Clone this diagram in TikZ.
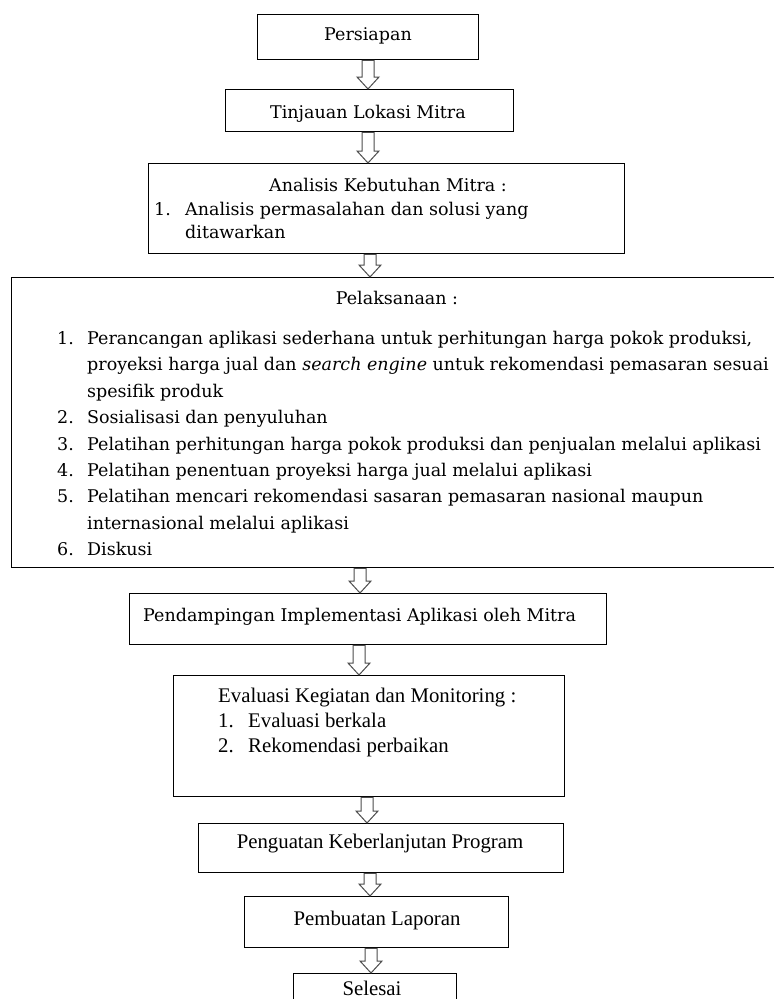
\documentclass[tikz,border=0pt]{standalone}
\usepackage{fontspec}
\setmainfont{Liberation Serif}
\newfontfamily\camfont{DejaVu Serif}
\usetikzlibrary{calc}

\newcommand{\blockarrow}[3]{%
\draw[hollow] let \p1=(#3,0 |- #1.south), \p2=(#3,0 |- #2.north) in
 (\x1-6pt,\y1)--(\x1-6pt,\y2+12pt)--(\x1-11pt,\y2+12pt)--(\x2,\y2)--(\x1+11pt,\y2+12pt)--(\x1+6pt,\y2+12pt)--(\x1+6pt,\y1)--cycle;}

\tikzset{
 box/.style={draw,line width=1.4pt,rectangle,anchor=north west,inner sep=0pt},
 hollow/.style={draw=black!70,line width=1pt,fill=white},
 tnr/.style={inner sep=0pt,font=\fontsize{20.8}{25}\selectfont},
 cam/.style={inner sep=0pt,font=\camfont\fontsize{17.5}{21}\selectfont}
}

\begin{document}
\begin{tikzpicture}[x=1pt,y=-1pt]
\useasboundingbox (0,0) rectangle (774,999);
\clip (0,0) rectangle (774,999);

\node[box,minimum width=221,minimum height=45] (persiapan) at (257,14) {};
\node[box,minimum width=288,minimum height=42] (tinjauan) at (225,89) {};
\node[box,minimum width=476,minimum height=90] (analisis) at (148,163) {};
\node[box,minimum width=773,minimum height=290] (pelaksanaan) at (11,277) {};
\node[box,minimum width=477,minimum height=51] (pendampingan) at (129,593) {};
\node[box,minimum width=391,minimum height=121] (evaluasi) at (173,675) {};
\node[box,minimum width=365,minimum height=49] (penguatan) at (198,823) {};
\node[box,minimum width=264,minimum height=51] (laporan) at (244,896) {};
\node[box,minimum width=163,minimum height=40] (selesai) at (293,973) {};

\blockarrow{persiapan}{tinjauan}{368}
\blockarrow{tinjauan}{analisis}{368}
\blockarrow{analisis}{pelaksanaan}{370}
\blockarrow{pelaksanaan}{pendampingan}{360}
\blockarrow{pendampingan}{evaluasi}{359}
\blockarrow{evaluasi}{penguatan}{367}
\blockarrow{penguatan}{laporan}{370}
\blockarrow{laporan}{selesai}{371}

\node[cam,anchor=base] (persiapanText) at (368,40) {Persiapan};
\node[cam,anchor=base] (tinjauanText) at (368,118) {Tinjauan Lokasi Mitra};

\node[cam,anchor=base] (analisisTitle) at (388,191) {Analisis Kebutuhan Mitra :};
\node[cam,anchor=base west] (analisisNum) at (154,215) {1.};
\node[cam,anchor=base west] (analisisA) at (185,215) {Analisis permasalahan dan solusi yang};
\node[cam,anchor=base west] (analisisB) at (185,238) {ditawarkan};

\node[cam,anchor=base] (pelaksanaanTitle) at (397,304) {Pelaksanaan :};
\node[cam,anchor=base west] (numA) at (57,344) {1.};
\node[cam,anchor=base west] (itemA) at (87,344) {Perancangan aplikasi sederhana untuk perhitungan harga pokok produksi,};
\node[cam,anchor=base west] (itemAb) at (87,370) {proyeksi harga jual dan \textit{search engine} untuk rekomendasi pemasaran sesuai};
\node[cam,anchor=base west] (itemAc) at (87,397) {spesifik produk};
\node[cam,anchor=base west] (numB) at (57,423) {2.};
\node[cam,anchor=base west] (itemB) at (87,423) {Sosialisasi dan penyuluhan};
\node[cam,anchor=base west] (numC) at (57,450) {3.};
\node[cam,anchor=base west] (itemC) at (87,450) {Pelatihan perhitungan harga pokok produksi dan penjualan melalui aplikasi};
\node[cam,anchor=base west] (numD) at (57,476) {4.};
\node[cam,anchor=base west] (itemD) at (87,476) {Pelatihan penentuan proyeksi harga jual melalui aplikasi};
\node[cam,anchor=base west] (numE) at (57,502) {5.};
\node[cam,anchor=base west] (itemE) at (87,502) {Pelatihan mencari rekomendasi sasaran pemasaran nasional maupun};
\node[cam,anchor=base west] (itemEb) at (87,529) {internasional melalui aplikasi};
\node[cam,anchor=base west] (numF) at (57,555) {6.};
\node[cam,anchor=base west] (itemF) at (87,555) {Diskusi};

\node[cam,anchor=base west] (pendampinganText) at (143,621) {Pendampingan Implementasi Aplikasi oleh Mitra};

\node[tnr,anchor=base west] (evaluasiTitle) at (218,702) {Evaluasi Kegiatan dan Monitoring :};
\node[tnr,anchor=base west] (evalNumA) at (218,727) {1.};
\node[tnr,anchor=base west] (evalA) at (248,727) {Evaluasi berkala};
\node[tnr,anchor=base west] (evalNumB) at (218,752) {2.};
\node[tnr,anchor=base west] (evalB) at (248,752) {Rekomendasi perbaikan};

\node[tnr,anchor=base] (penguatanText) at (380,848) {Penguatan Keberlanjutan Program};
\node[tnr,anchor=base] (laporanText) at (377,925) {Pembuatan Laporan};
\node[tnr,anchor=base] (selesaiText) at (372,995) {Selesai};
\end{tikzpicture}
\end{document}
